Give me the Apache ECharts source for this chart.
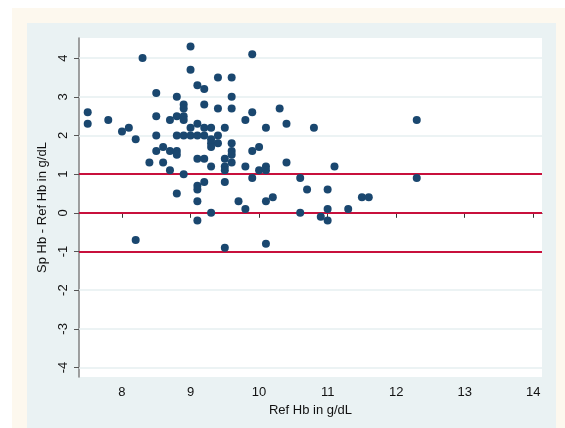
<!DOCTYPE html>
<html>
<head>
<meta charset="utf-8">
<script src="https://cdn.jsdelivr.net/npm/echarts@6/dist/echarts.min.js"></script>
<style>
  html, body { margin: 0; padding: 0; background: #fff; }
  #cream { position: absolute; left: 12px; top: 8px; width: 553px; height: 420px; background: #fdf8ee; }
  #panel { position: absolute; left: 27px; top: 23px; width: 529px; height: 405px; background: #eaf2f3; }
  #chart { position: absolute; left: 0; top: 0; width: 565px; height: 428px; }
</style>
</head>
<body>
<div id="cream"></div>
<div id="panel"></div>
<div id="chart"></div>
<script>
// Ref Hb (x) and Sp Hb - Ref Hb (y)
const refHb = [
  7.5, 7.5, 7.8, 8.0, 8.1, 8.2, 8.3, 8.4, 8.2,
  8.5, 8.5, 8.5, 8.5, 8.6, 8.6, 8.7, 8.7, 8.7,
  8.8, 8.8, 8.8, 8.8, 8.8, 8.8,
  8.9, 8.9, 8.9, 8.9, 8.9, 8.9,
  9.0, 9.0, 9.0, 9.0,
  9.1, 9.1, 9.1, 9.1, 9.1, 9.1, 9.1, 9.1,
  9.2, 9.2, 9.2, 9.2, 9.2, 9.2,
  9.3, 9.3, 9.3, 9.3, 9.3, 9.3,
  9.4, 9.4, 9.4, 9.4,
  9.5, 9.5, 9.5, 9.5, 9.5, 9.5,
  9.6, 9.6, 9.6, 9.6, 9.6, 9.6, 9.6,
  9.7, 9.8, 9.8, 9.8,
  9.9, 9.9, 9.9, 9.9,
  10.0, 10.0,
  10.1, 10.1, 10.1, 10.1, 10.1,
  10.2, 10.3, 10.4, 10.4,
  10.6, 10.6, 10.7, 10.8, 10.9,
  11.0, 11.0, 11.0, 11.1, 11.3, 11.5, 11.6,
  12.3, 12.3
];
const diffHb = [
  2.6, 2.3, 2.4, 2.1, 2.2, 1.9, 4.0, 1.3, -0.7,
  3.1, 2.5, 2.0, 1.6, 1.7, 1.3, 2.4, 1.6, 1.1,
  3.0, 2.5, 2.0, 1.6, 1.5, 0.5,
  2.8, 2.7, 2.5, 2.4, 2.0, 1.0,
  4.3, 3.7, 2.2, 2.0,
  3.3, 2.3, 2.0, 1.4, 0.7, 0.6, 0.3, -0.2,
  3.2, 2.8, 2.2, 2.0, 1.4, 0.8,
  2.2, 1.9, 1.8, 1.7, 1.2, 0.0,
  3.5, 2.7, 2.0, 1.8,
  2.2, 1.4, 1.2, 1.1, 0.8, -0.9,
  3.5, 3.0, 2.7, 1.8, 1.6, 1.5, 1.3,
  0.3, 2.4, 1.2, 0.1,
  4.1, 2.6, 1.6, 0.9,
  1.7, 1.1,
  2.2, 1.2, 1.1, 0.3, -0.8,
  0.4, 2.7, 2.3, 1.3,
  0.9, 0.0, 0.6, 2.2, -0.1,
  0.6, 0.1, -0.2, 1.2, 0.1, 0.4, 0.4,
  2.4, 0.9
];
const xTicks = [8, 9, 10, 11, 12, 13, 14];
const yTicks = [-4, -3, -2, -1, 0, 1, 2, 3, 4];
const refLines = [-1, 0, 1];

const chart = echarts.init(document.getElementById('chart'));
const font = 'Liberation Sans, Arial, sans-serif';

chart.setOption({
  animation: false,
  grid: {
    left: 79, right: 23, top: 38, bottom: 51,
    show: true, backgroundColor: '#ffffff', borderWidth: 0
  },
  xAxis: {
    type: 'value',
    min: 7.373, max: 14.127,
    name: 'Ref Hb in g/dL',
    nameLocation: 'middle',
    nameGap: 24,
    nameTextStyle: { fontFamily: font, fontSize: 13, color: '#111' },
    axisLine: { lineStyle: { color: '#333', width: 1.2 } },
    axisTick: { show: true, length: 5, customValues: xTicks, lineStyle: { color: '#333' } },
    axisLabel: { customValues: xTicks, fontFamily: font, fontSize: 13, color: '#111', margin: 9 },
    splitLine: { show: false }
  },
  yAxis: {
    type: 'value',
    min: -4.245, max: 4.52,
    name: 'Sp Hb - Ref Hb in g/dL',
    nameLocation: 'middle',
    nameRotate: 90,
    nameGap: 26,
    nameTextStyle: { fontFamily: font, fontSize: 13, color: '#111' },
    axisLine: { show: true, lineStyle: { color: '#808080', width: 1.5 } },
    axisTick: { show: true, length: 5, customValues: yTicks, lineStyle: { color: '#555' } },
    axisLabel: { customValues: yTicks, rotate: 90, fontFamily: font, fontSize: 13, color: '#111', margin: 9 },
    splitLine: { show: false }
  },
  series: [
    {
      // horizontal grid lines
      type: 'line',
      data: [],
      silent: true,
      markLine: {
        z: 1,
        silent: true,
        symbol: 'none',
        label: { show: false },
        lineStyle: { color: '#e6eff1', width: 1.5, type: 'solid' },
        data: yTicks.map(v => ({ yAxis: v }))
      }
    },
    {
      // reference lines
      type: 'line',
      data: [],
      silent: true,
      markLine: {
        z: 2,
        silent: true,
        symbol: 'none',
        label: { show: false },
        lineStyle: { color: '#c8103c', width: 1.8, type: 'solid' },
        data: refLines.map(v => ({ yAxis: v }))
      }
    },
    {
      type: 'scatter',
      z: 6,
      symbolSize: 8,
      itemStyle: { color: '#1a476f', opacity: 1 },
      data: refHb.map((x, i) => [x, diffHb[i]])
    }
  ]
});
</script>
</body>
</html>
